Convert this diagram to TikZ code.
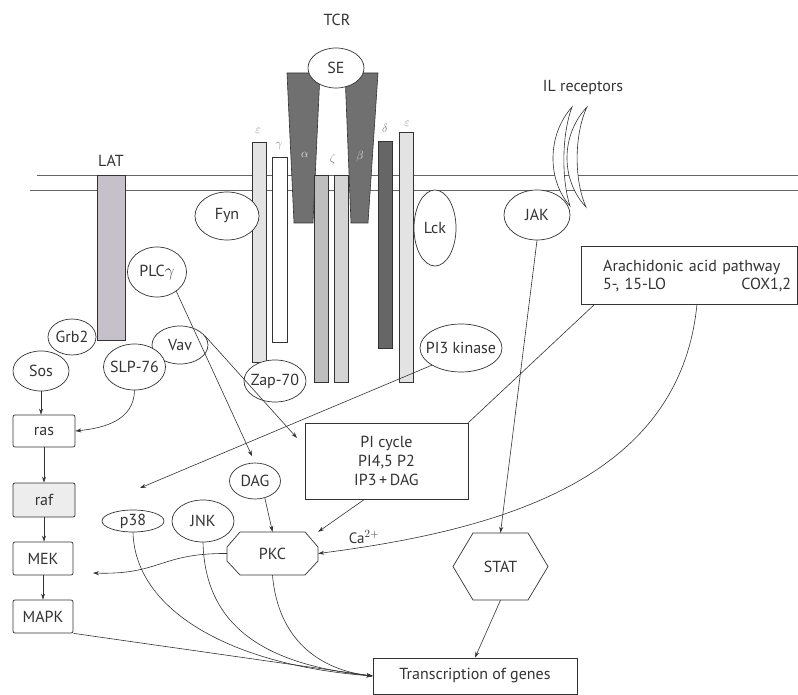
\documentclass[tikz,border=0pt]{standalone}
\usepackage{fontspec}
\setmainfont{PT Sans}
\usetikzlibrary{arrows.meta,shapes.geometric}
\definecolor{ink}{HTML}{333333}
\definecolor{latgray}{HTML}{C6C1C9}
\definecolor{darkbar}{HTML}{707070}
\definecolor{deltabar}{HTML}{666666}
\definecolor{zetaone}{HTML}{BEBEBE}
\definecolor{zetatwo}{HTML}{D4D4D4}
\definecolor{epsbar}{HTML}{E3E3E3}
\definecolor{rafgray}{HTML}{EDEDED}
\begin{document}
\begin{tikzpicture}[x=1pt,y=-1pt,
  font=\fontsize{16}{18}\selectfont,
  every node/.style={text=ink},
  ell/.style={ellipse, draw=ink, line width=0.7pt, fill=white, inner xsep=-7pt, inner ysep=0pt},
  rbox/.style={rectangle, draw=ink, line width=0.7pt, fill=white, inner sep=0pt, rounded corners=2pt},
  sbox/.style={rectangle, draw=ink, line width=0.7pt, fill=white, inner sep=0pt},
  conn/.style={draw=ink, line width=0.6pt, -{Stealth[length=6pt,width=4pt]}},
  plain/.style={draw=ink, line width=0.6pt},
  bar/.style={draw=ink, line width=0.6pt},
  greek/.style={font=\fontsize{12}{14}\selectfont, text=gray}]
\useasboundingbox (0,0) rectangle (798,695);

% membrane
\draw[plain, draw=ink!75] (37,175) -- (798,175);
\draw[plain, draw=ink!75] (30,190) -- (798,190);

% labels
\node (TCR) at (337,20) {TCR};
\node (LATl) at (111,161) {LAT};
\node (ILl) at (583,88) {IL receptors};

% bars
\draw[bar, fill=latgray] (97,175) rectangle (125,340);
\draw[bar, fill=epsbar] (252,142) rectangle (266,362);
\draw[bar, fill=white] (272,157) rectangle (287,342);
\draw[bar, fill=darkbar] (287,73) -- (320,73) -- (313,223) -- (294,223) -- cycle;
\draw[bar, fill=darkbar] (345,73) -- (378,73) -- (368,223) -- (351,223) -- cycle;
\draw[bar, fill=zetaone] (314,175) rectangle (328,382);
\draw[bar, fill=zetatwo] (334,175) rectangle (348,382);
\draw[bar, fill=deltabar] (378,141) rectangle (392,348);
\draw[bar, fill=epsbar] (399,132) rectangle (413,382);

% greek labels
\node[greek] (geps1) at (258,131) {$\varepsilon$};
\node[greek] (ggam) at (279,146) {$\gamma$};
\node[greek, text=white!80!gray] (galpha) at (305,155) {$\alpha$};
\node[greek] (gzeta) at (333,160) {$\zeta$};
\node[greek, text=white!80!gray] (gbeta) at (360,157) {$\beta$};
\node[greek] (gdelta) at (385,128) {$\delta$};
\node[greek] (geps2) at (407,124) {$\varepsilon$};

\node[ell, minimum width=56pt, minimum height=40pt] (SE) at (336,68) {SE};

% IL receptors
\draw[plain, fill=white] (572,107) .. controls (547,135) and (547,180) .. (570,206)
  .. controls (561.5,180) and (561.5,135) .. (572,107) -- cycle;
\draw[plain, fill=white] (587,107) .. controls (560.5,135) and (560.5,180) .. (586,207)
  .. controls (574,180) and (574,135) .. (587,107) -- cycle;

% molecules
\node[ell, minimum width=64pt, minimum height=48pt] (Fyn) at (227,216) {Fyn};
\node[ell, minimum width=59pt, minimum height=50pt] (PLC) at (157,272) {PLC$\gamma$};
\node[ell, minimum width=42pt, minimum height=76pt] (Lck) at (435,228) {Lck};
\node[ell, minimum width=66pt, minimum height=50pt] (JAK) at (537,215) {JAK};
\node[ell, minimum width=48pt, minimum height=36pt] (Grb) at (72,337) {Grb2};
\node[ell, minimum width=56pt, minimum height=40pt] (Sos) at (41,371) {Sos};
\node[ell, minimum width=56pt, minimum height=38pt] (Vav) at (180,345) {Vav};
\node[ell, minimum width=62pt, minimum height=46pt] (SLP) at (134.5,367) {SLP-76};
\node[ell, minimum width=62pt, minimum height=42pt] (Zap) at (275,381) {Zap-70};
\node[ell, minimum width=82pt, minimum height=48pt] (PI3) at (461,348) {PI3 kinase};
\node[ell, minimum width=51pt, minimum height=36pt] (DAG) at (255,481) {DAG};
\node[ell, minimum width=62pt, minimum height=22pt] (p38) at (133,521) {p38};
\node[ell, minimum width=62pt, minimum height=42pt] (JNK) at (203,521) {JNK};

% boxes
\node[rbox, minimum width=62pt, minimum height=32pt] (ras) at (44,431) {ras};
\node[rbox, fill=rafgray, minimum width=62pt, minimum height=34pt] (raf) at (44,500) {raf};
\node[rbox, minimum width=60pt, minimum height=33pt] (MEK) at (43,558.5) {MEK};
\node[rbox, minimum width=60pt, minimum height=33pt] (MAPK) at (43,616.5) {MAPK};

\node[sbox, minimum width=163pt, minimum height=76pt, align=center,
  font=\fontsize{16}{19}\selectfont] (PI) at (386.5,461) {PI cycle\\PI4,5 P2\\IP3\,+\,DAG};
\node[sbox, minimum width=216pt, minimum height=58pt] (ARA) at (689,275) {};
\node[text width=188pt, align=left, inner sep=0pt, anchor=west] (ARAt) at (603,276)
  {Arachidonic acid pathway\\5-, 15-LO\hfill COX1,2};
\node[sbox, minimum width=204pt, minimum height=36pt] (TR) at (475,676) {Transcription of genes};

% PKC octagon
\node[minimum width=91pt, minimum height=43pt, inner sep=0pt] (PKC) at (272.5,553.5) {PKC};
\draw[plain, line width=0.7pt] (240,532) -- (305,532) -- (318,547) -- (318,561) -- (305,575)
  -- (240,575) -- (227,561) -- (227,547) -- cycle;
% STAT hexagon
\node[minimum width=95pt, minimum height=67pt, inner sep=0pt] (STAT) at (500.5,566.5) {STAT};
\draw[plain, line width=0.7pt] (453,566.5) -- (473,533) -- (528,533) -- (548,566.5)
  -- (528,600) -- (473,600) -- cycle;

\node[font=\fontsize{15}{17}\selectfont] (Ca) at (364,537) {Ca$^{2+}$};

% free ends
\coordinate (picarrow) at (297,438);
\coordinate (p38arrow) at (140,488);
\coordinate (mekarrow) at (93,573);
\coordinate (araout) at (595,304);
\coordinate (arapkc) at (697,304);

% connectors
\draw[conn] (Sos.south) -- (Sos.south |- ras.north);
\draw[conn] (SLP.south) .. controls (134,420) and (105,428) .. (ras.east);
\draw[conn] (ras.south) -- (raf.north);
\draw[conn] (raf.south) -- (raf.south |- MEK.north);
\draw[conn] (MEK.south) -- (MAPK.north);
\draw[conn, shorten >=7pt] (PLC.-45) -- (DAG.north);
\draw[conn] (Vav.20) -- (picarrow);
\draw[conn] (PI3.south west) -- (p38arrow);
\draw[plain] (araout) -- (PI.north east);
\draw[conn] (JAK.south) -- (STAT.north);
\draw[conn] (STAT.south) -- (TR.north);
\draw[conn] (DAG.-60) -- (PKC.north);
\draw[conn] ([xshift=-22pt]PI.south) -- (PKC.north east);
\draw[conn] (arapkc) .. controls (680,480) and (500,530) .. (PKC.east);
\draw[conn] (PKC.west) .. controls (160,553) and (160,575) .. (mekarrow);
\draw[conn] (p38.south) .. controls (135,610) and (230,665) .. (TR.west);
\draw[conn] (JNK.south) .. controls (205,630) and (270,665) .. (TR.west);
\draw[conn] (PKC.south) .. controls (278,640) and (320,670) .. (TR.west);
\draw[conn] (MAPK.south east) -- (TR.west);
\end{tikzpicture}
\end{document}
